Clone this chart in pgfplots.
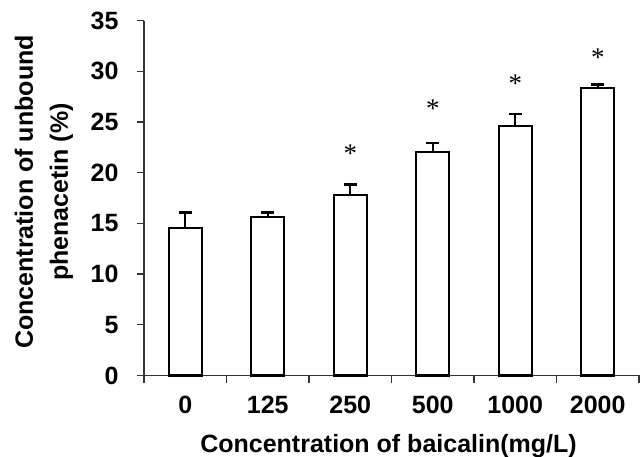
\documentclass[border=0pt]{standalone}
\usepackage{fontspec}
\setmainfont{Liberation Sans}
\newfontfamily\seriffont{Liberation Serif}
\usepackage{pgfplots}
\pgfplotsset{compat=1.18}
\begin{document}
\begin{tikzpicture}
\useasboundingbox (0,0) rectangle (640pt,457pt);
\begin{axis}[
  at={(144pt,81.6pt)}, anchor=south west,
  scale only axis,
  width=495pt, height=354.7pt,
  xmin=-0.5, xmax=5.5, ymin=0, ymax=35,
  axis lines=left,
  axis line style={-, line width=1.3pt, color=black!80},
  /pgf/number format/assume math mode=true,
  xtick={0,1,2,3,4,5},
  xticklabels={0,125,250,500,1000,2000},
  major x tick style={draw=none},
  minor xtick={-0.5,0.5,1.5,2.5,3.5,4.5,5.5},
  minor x tick style={line width=1.3pt, color=black!80},
  minor tick length=8pt,
  ytick={0,5,...,35},
  y tick style={line width=1.3pt, color=black!80},
  major tick length=7pt,
  tick align=outside,
  tick label style={font=\bfseries\fontsize{25}{25}\selectfont},
  xticklabel style={yshift=-10pt},
  yticklabel style={xshift=-15pt},
  xlabel={Concentration of baicalin(mg/L)},
  xlabel style={font=\bfseries\fontsize{25}{30}\selectfont, at={(axis description cs:0.5,0)}, anchor=base, yshift=-77pt, xshift=-3pt},
  ylabel={Concentration of unbound\\phenacetin (\%)},
  ylabel style={font=\bfseries\fontsize{25}{35}\selectfont, align=center, at={(axis description cs:0,0.5)}, anchor=center, inner sep=0pt, xshift=6pt, yshift=100pt},
  clip=false,
]
\addplot[ybar, bar shift=0pt, bar width=33pt, draw=black, fill=white, line width=2.3pt,
  error bars/.cd, y dir=plus, y explicit,
  error bar style={line width=2.2pt, black},
  error mark options={rotate=90, line width=2.2pt, mark size=6.5pt, black}]
coordinates {
  (0,14.55) +- (0,1.53)
  (1,15.64) +- (0,0.44)
  (2,17.82) +- (0,1.02)
  (3,22.03) +- (0,0.92)
  (4,24.62) +- (0,1.18)
  (5,28.39) +- (0,0.31)
};
\addplot[draw=none, mark=none, nodes near coords={*},
  every node near coord/.style={anchor=north, inner sep=0pt, font=\seriffont\fontsize{27}{27}\selectfont}]
coordinates {
  (2,22.78)
  (3,27.2)
  (4,29.65)
  (5,32.26)
};
\end{axis}
\end{tikzpicture}
\end{document}
